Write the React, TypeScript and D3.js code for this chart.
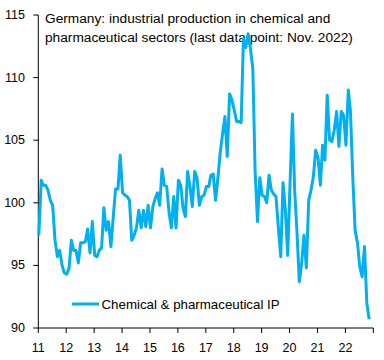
import React from "react";
import * as d3 from "d3";

const startYear = 2011;
const values: number[] = [
  // 2011
  97.4, 101.8, 101.4, 101.4, 101.0, 100.2, 99.8, 97.0, 95.7, 96.2, 95.0, 94.4,
  // 2012
  94.3, 94.8, 97.0, 96.2, 96.2, 95.2, 96.8, 96.8, 96.9, 97.9, 96.0, 98.5,
  // 2013
  95.8, 95.7, 96.2, 96.4, 99.6, 97.8, 98.5, 96.5, 98.9, 101.1, 101.1, 103.8,
  // 2014
  100.8, 100.6, 100.5, 100.2, 97.0, 97.4, 98.0, 99.4, 98.0, 99.4, 98.1, 99.8,
  // 2015
  98.0, 99.7, 100.3, 100.8, 99.8, 102.7, 101.4, 101.3, 99.2, 98.0, 100.5, 98.0,
  // 2016
  101.8, 101.4, 99.6, 98.9, 102.5, 101.3, 99.7, 102.5, 102.0, 99.8, 100.5, 100.6,
  // 2017
  101.3, 101.3, 102.2, 102.3, 100.2, 102.0, 104.0, 105.5, 106.9, 103.7, 108.7, 108.2,
  // 2018
  107.4, 106.5, 106.5, 106.4, 113.1, 112.4, 113.5, 112.3, 110.7, 102.5, 98.5, 102.0,
  // 2019
  100.6, 100.5, 100.0, 102.2, 101.0, 100.7, 100.5, 98.0, 95.7, 101.6, 99.4, 95.8,
  // 2020
  101.6, 107.1, 101.0, 97.6, 93.7, 95.2, 97.4, 94.8, 100.2, 101.0, 102.1, 104.2,
  // 2021
  103.6, 101.4, 104.6, 103.4, 108.6, 105.0, 104.9, 105.8, 107.3, 104.5, 107.3, 107.0,
  // 2022 (to Nov)
  104.6, 109.0, 107.3, 102.0, 97.8, 96.8, 94.9, 94.1, 96.5, 92.0, 90.7,
];

const yTicks = [90, 95, 100, 105, 110, 115];
const xTickLabels = ["11", "12", "13", "14", "15", "16", "17", "18", "19", "20", "21", "22"];
const titleLines = [
  "Germany: industrial production in chemical and",
  "pharmaceutical sectors (last data point: Nov. 2022)",
];
const legendLabel = "Chemical & pharmaceutical IP";

const W = 384;
const H = 360;
const left = 38.3;
const right = 373.3;
const top = 15;
const bottom = 328;
const FONT = "'Liberation Sans', Arial, sans-serif";

export default function App() {
  const x = d3
    .scaleTime()
    .domain([new Date(startYear, 0, 1), new Date(startYear + 12, 0, 1)])
    .range([left, right]);
  const y = d3.scaleLinear().domain([90, 115]).range([bottom, top]);

  const data = values.map((v, i) => ({ date: new Date(startYear, i, 8), v }));
  const line = d3
    .line<{ date: Date; v: number }>()
    .x((d) => x(d.date))
    .y((d) => y(d.v));

  const yearTicks = d3.range(0, 13).map((k) => new Date(startYear + k, 0, 1));

  return (
    <svg
      width={W}
      height={H}
      style={{ position: "absolute", left: 0, top: 0, background: "#fff" }}
      fontFamily={FONT}
    >
      <rect x={0} y={0} width={W} height={H} fill="#fff" />
      {/* title */}
      {titleLines.map((t, i) => (
        <text key={i} x={45} y={23 + i * 18.5} fontSize={13.7} fill="#000">
          {t}
        </text>
      ))}
      {/* y axis */}
      <line x1={left} x2={left} y1={top} y2={bottom} stroke="#000" strokeWidth={1} />
      {yTicks.map((t) => (
        <g key={t}>
          <line x1={left - 5} x2={left} y1={y(t)} y2={y(t)} stroke="#000" strokeWidth={1} />
          <text
            x={25}
            y={y(t)}
            textAnchor="end"
            dominantBaseline="central"
            fontSize={12.5}
            fill="#000"
          >
            {t}
          </text>
        </g>
      ))}
      {/* x axis */}
      <line x1={left} x2={right} y1={bottom} y2={bottom} stroke="#000" strokeWidth={1} />
      {yearTicks.map((d, k) => (
        <line key={k} x1={x(d)} x2={x(d)} y1={bottom} y2={bottom + 5} stroke="#000" strokeWidth={1} />
      ))}
      {xTickLabels.map((lab, k) => (
        <text
          key={lab}
          x={x(new Date(startYear + k, 0, 1))}
          y={351.5}
          textAnchor="middle"
          fontSize={12.5}
          fill="#000"
        >
          {lab}
        </text>
      ))}
      {/* series */}
      <path d={line(data) ?? ""} fill="none" stroke="#00B0F0" strokeWidth={3} strokeLinejoin="round" />
      {/* legend */}
      <line x1={72} x2={99} y1={304} y2={304} stroke="#00B0F0" strokeWidth={3} />
      <text x={101.5} y={308.5} fontSize={13.3} fill="#000">
        {legendLabel}
      </text>
    </svg>
  );
}
